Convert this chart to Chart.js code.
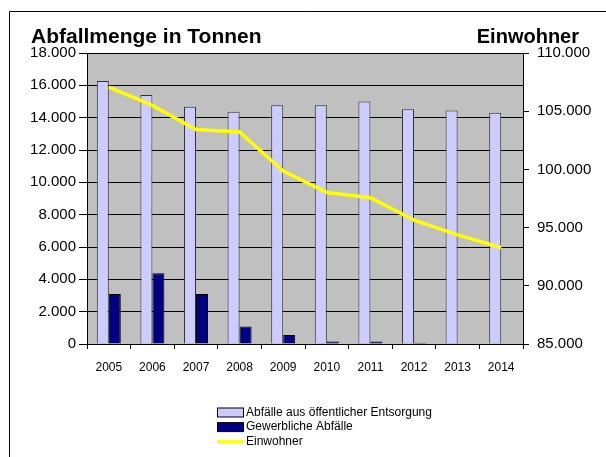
<!DOCTYPE html>
<html>
<head>
<meta charset="utf-8">
<script src="https://cdn.jsdelivr.net/npm/chart.js@4.4.1/dist/chart.umd.min.js"></script>
<style>
  html, body { margin: 0; padding: 0; background: #fff; }
  canvas { display: block; }
</style>
</head>
<body>
<canvas id="myChart" width="606" height="457"></canvas>
<script>
const years = ['2005', '2006', '2007', '2008', '2009', '2010', '2011', '2012', '2013', '2014'];
const oeffentlich = [16270, 15400, 14670, 14360, 14770, 14770, 15000, 14520, 14440, 14300];
const gewerblich = [3090, 4380, 3090, 1090, 560, 160, 160, 80, 0, 0];
const einwohner = [107070, 105500, 103420, 103220, 99850, 98020, 97560, 95650, 94370, 93280];

const FONT = 'Liberation Sans, Arial, sans-serif';

// 18000 -> "18.000"
function fmt(v) {
  return String(v).replace(/\B(?=(\d{3})+(?!\d))/g, '.');
}

// grey plot area, frame, the two axis titles and the legend
const decor = {
  id: 'decor',
  beforeDraw(chart) {
    const ctx = chart.ctx;
    const a = chart.chartArea;
    ctx.save();
    ctx.fillStyle = '#c0c0c0';
    ctx.fillRect(a.left, a.top, a.right - a.left, a.bottom - a.top);
    ctx.strokeStyle = '#000';
    ctx.lineWidth = 1;
    ctx.beginPath();
    ctx.moveTo(9.5, 457);
    ctx.lineTo(9.5, 11.5);
    ctx.lineTo(606, 11.5);
    ctx.stroke();
    ctx.restore();
  },
  afterDraw(chart) {
    const ctx = chart.ctx;
    ctx.save();
    ctx.fillStyle = '#000';
    ctx.textBaseline = 'alphabetic';
    ctx.textAlign = 'left';
    ctx.font = 'bold 21px ' + FONT;
    ctx.fillText('Abfallmenge in Tonnen', 31, 43);
    ctx.textAlign = 'right';
    ctx.font = 'bold 20px ' + FONT;
    ctx.fillText('Einwohner', 579, 43);

    // legend, one item per row
    ctx.font = '12px ' + FONT;
    ctx.textAlign = 'left';
    ctx.textBaseline = 'middle';
    chart.data.datasets.forEach((ds, i) => {
      const y = 412.5 + i * 14.6;
      if (ds.type === 'line') {
        ctx.strokeStyle = ds.borderColor;
        ctx.lineWidth = 3;
        ctx.beginPath();
        ctx.moveTo(217, y);
        ctx.lineTo(243, y);
        ctx.stroke();
      } else {
        ctx.fillStyle = ds.backgroundColor;
        ctx.fillRect(217.5, y - 4.5, 26, 9);
        ctx.strokeStyle = '#000';
        ctx.lineWidth = 1;
        ctx.strokeRect(217.5, y - 4.5, 26, 9);
      }
      ctx.fillStyle = '#000';
      ctx.fillText(ds.label, 246, y);
    });
    ctx.restore();
  }
};

const ctx = document.getElementById('myChart').getContext('2d');

const chart = new Chart(ctx, {
  type: 'bar',
  data: {
    labels: years,
    datasets: [{
      label: 'Abfälle aus öffentlicher Entsorgung',
      data: oeffentlich,
      backgroundColor: '#ccccff',
      borderColor: '#333333',
      borderWidth: 1,
      yAxisID: 'y',
      order: 1
    }, {
      label: 'Gewerbliche Abfälle',
      data: gewerblich,
      backgroundColor: '#000080',
      borderColor: '#000000',
      borderWidth: 1,
      yAxisID: 'y',
      order: 1
    }, {
      type: 'line',
      label: 'Einwohner',
      data: einwohner,
      borderColor: '#ffff00',
      borderWidth: 3.5,
      pointRadius: 0,
      tension: 0,
      fill: false,
      yAxisID: 'y1',
      order: 0
    }]
  },
  options: {
    responsive: false,
    animation: false,
    devicePixelRatio: 1,
    layout: { padding: { top: 53, left: 0, right: 0, bottom: 0 } },
    datasets: {
      bar: { categoryPercentage: 0.55, barPercentage: 1 }
    },
    plugins: {
      legend: { display: false },
      title: { display: false },
      tooltip: { enabled: false }
    },
    scales: {
      x: {
        offset: true,
        grid: { offset: true, drawOnChartArea: false, tickLength: 5, color: '#000' },
        border: { color: '#000' },
        ticks: { color: '#000', font: { family: FONT, size: 12 }, padding: 11, maxRotation: 0 },
        afterFit(scale) { scale.height = 113; }
      },
      y: {
        position: 'left',
        min: 0,
        max: 18000,
        grid: { color: '#000', tickLength: 8 },
        border: { color: '#000' },
        ticks: { stepSize: 2000, color: '#000', font: { family: FONT, size: 15 }, padding: 3, callback: v => fmt(v) },
        afterFit(scale) { scale.width = 87; }
      },
      y1: {
        position: 'right',
        min: 85000,
        max: 110000,
        grid: { drawOnChartArea: false, color: '#000', tickLength: 6 },
        border: { color: '#000' },
        ticks: { stepSize: 5000, color: '#000', font: { family: FONT, size: 15 }, padding: 8, callback: v => fmt(v) },
        afterFit(scale) { scale.width = 83; }
      }
    }
  },
  plugins: [decor]
});
</script>
</body>
</html>
